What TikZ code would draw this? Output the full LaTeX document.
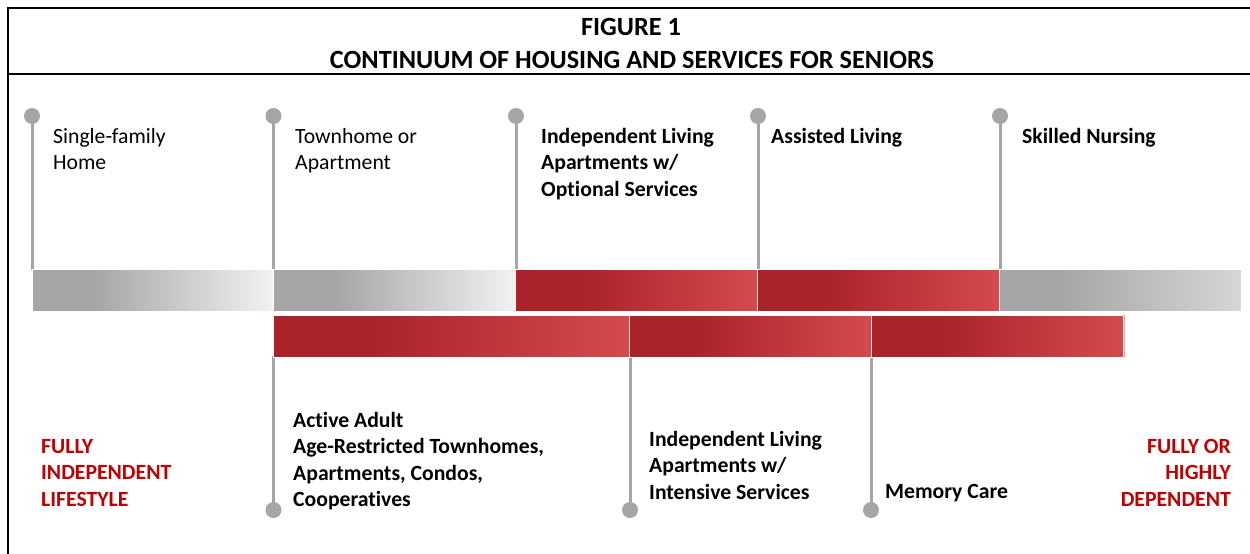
\documentclass[tikz,border=0pt]{standalone}
\usepackage{fontspec}
\setmainfont{Carlito}[Ligatures=NoCommon]
\definecolor{gA}{HTML}{A6A6A6}
\definecolor{gB}{HTML}{F2F2F2}
\definecolor{gC}{HTML}{D6D6D6}
\definecolor{rA}{HTML}{A8232A}
\definecolor{rB}{HTML}{D44B4D}
\definecolor{pingray}{HTML}{A6A6A6}
\definecolor{redtxt}{HTML}{C00000}
\pgfdeclarehorizontalshading{grayshadeA}{100bp}{color(0bp)=(gA); color(38bp)=(gA); color(75bp)=(gB); color(100bp)=(gB)}
\pgfdeclarehorizontalshading{grayshadeB}{100bp}{color(0bp)=(gA); color(38bp)=(gA); color(75bp)=(gC); color(100bp)=(gC)}
\pgfdeclarehorizontalshading{redshade}{100bp}{color(0bp)=(rA); color(38bp)=(rA); color(75bp)=(rB); color(100bp)=(rB)}
\newcommand{\Lstack}[1]{\vtop{\halign{##\hfil\cr#1\crcr}}}
\newcommand{\Rstack}[1]{\vtop{\halign{\hfil##\cr#1\crcr}}}
\begin{document}
\begin{tikzpicture}[x=1pt,y=-1pt,
  lbl/.style={inner sep=0pt, anchor=base west, font=\fontsize{21.7}{26.5}\selectfont},
  blbl/.style={lbl, font=\fontsize{21.7}{26.5}\selectfont\bfseries},
  rlbl/.style={blbl, text=redtxt},
  ttl/.style={inner sep=0pt, anchor=base, font=\fontsize{26.3}{30}\selectfont\bfseries},
  dot/.style={circle, fill=pingray, minimum size=16pt, inner sep=0pt},
  pinline/.style={draw=pingray, line width=3pt},
  seg/.style={draw=white, line width=0.8pt},
  frame/.style={draw=black, line width=2.2pt}]
\useasboundingbox (0,0) rectangle (1250,554);
% frame
\draw[frame] (8,554) -- (8,8) -- (1250,8);
\draw[frame, line width=2pt] (8,73.5) -- (1250,73.5);
\node[ttl] (title1) at (631,35) {FIGURE 1};
\node[ttl] (title2) at (632,68) {CONTINUUM OF HOUSING AND SERVICES FOR SENIORS};
% upper pins
\foreach \i/\x in {1/32,2/273.5,3/516,4/758,5/1000}{
  \node[dot] (u\i) at (\x,116) {};
  \coordinate (ub\i) at (\x,270);
  \draw[pinline] (u\i.center) -- (ub\i);
}
% lower pins
\foreach \i/\x in {1/273.5,2/630,3/871}{
  \node[dot] (l\i) at (\x,510) {};
  \coordinate (lb\i) at (\x,356);
  \draw[pinline] (lb\i) -- (l\i.center);
}
% upper bar
\path[seg, shading=grayshadeA] (32,269) rectangle (273.5,311);
\path[seg, shading=grayshadeA] (273.5,269) rectangle (515.5,311);
\path[seg, shading=redshade] (515.5,269) rectangle (757.5,311);
\path[seg, shading=redshade] (757.5,269) rectangle (999.5,311);
\path[seg, shading=grayshadeB] (999.5,269) rectangle (1241,311);
% lower bar
\path[seg, shading=redshade] (273.5,315) rectangle (629.5,357);
\path[seg, shading=redshade] (629.5,315) rectangle (871.5,357);
\path[seg, shading=redshade] (871.5,315) rectangle (1123.5,357);
\draw[draw=rB!50!white, line width=0.8pt] (1124.5,314) -- (1124.5,358);
% upper labels
\node[lbl] (a1) at (53,143) {\Lstack{Single-family\cr Home}};
\node[lbl] (a2) at (295,143) {\Lstack{Townhome or\cr Apartment}};
\node[blbl] (a3) at (541,143) {\Lstack{Independent Living\cr Apartments w/\cr Optional Services}};
\node[blbl] (a4) at (771,143) {Assisted Living};
\node[blbl] (a5) at (1022,143) {Skilled Nursing};
% lower labels
\node[blbl] (b1) at (293,427) {\Lstack{Active Adult\cr Age-Restricted Townhomes,\cr Apartments, Condos,\cr Cooperatives}};
\node[blbl] (b2) at (649,446) {\Lstack{Independent Living\cr Apartments w/\cr Intensive Services}};
\node[blbl] (b3) at (885,498) {Memory Care};
\node[rlbl] (c1) at (41,453) {\Lstack{FULLY\cr INDEPENDENT\cr LIFESTYLE}};
\node[rlbl, anchor=base east] (c2) at (1231,453) {\Rstack{FULLY OR\cr HIGHLY\cr DEPENDENT}};
\end{tikzpicture}
\end{document}
